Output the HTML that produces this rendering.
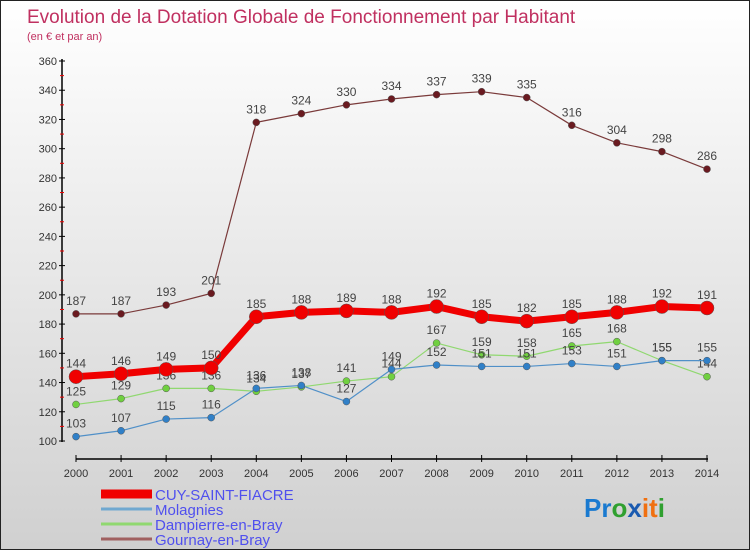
<!DOCTYPE html>
<html><head><meta charset="utf-8"><style>
body{margin:0}
#c{width:750px;height:550px;position:relative;overflow:hidden;box-sizing:border-box;border:1px solid #222;background:linear-gradient(#ffffff,#d0d0d0);font-family:"Liberation Sans",sans-serif}
</style></head><body>
<div id="c">
<svg id="s" width="750" height="550" style="position:absolute;left:0;top:0">
<text x="26" y="22" font-size="19" fill="#c03060">Evolution de la Dotation Globale de Fonctionnement par Habitant</text>
<text x="26" y="39" font-size="11" fill="#c03060">(en € et par an)</text>
<g id="axes"></g><g id="series"></g><g id="legend"></g>
<text x="583" y="516" font-size="26" font-weight="bold"><tspan fill="#1a7ad0">Pr</tspan><tspan fill="#30a030">o</tspan><tspan fill="#1a5ab0">x</tspan><tspan fill="#f07010">it</tspan><tspan fill="#30a030">i</tspan></text>
</svg>
</div>
<script>
const years=[2000,2001,2002,2003,2004,2005,2006,2007,2008,2009,2010,2011,2012,2013,2014];
const yTicks=[100,120,140,160,180,200,220,240,260,280,300,320,340,360];
const cuy=[144,146,149,150,185,188,189,188,192,185,182,185,188,192,191];
const molagnies=[103,107,115,116,136,138,127,149,152,151,151,153,151,155,155];
const dampierre=[125,129,136,136,134,137,141,144,167,159,158,165,168,155,144];
const gournay=[187,187,193,201,318,324,330,334,337,339,335,316,304,298,286];
const names=["CUY-SAINT-FIACRE","Molagnies","Dampierre-en-Bray","Gournay-en-Bray"];
const NS="http://www.w3.org/2000/svg";
const X=i=>75+i*(706-75)/(years.length-1);
const Y=v=>440-(v-100)*380/260;
function mk(t,a,p){const e=document.createElementNS(NS,t);for(const k in a)e.setAttribute(k,a[k]);p.appendChild(e);return e;}
const ax=document.getElementById('axes');
mk('line',{x1:61,y1:58,x2:61,y2:441,stroke:'#000','stroke-width':1.5},ax);
mk('line',{x1:75,y1:458,x2:707,y2:458,stroke:'#000','stroke-width':1.5},ax);
yTicks.forEach(v=>{
 mk('line',{x1:58,y1:Y(v),x2:64,y2:Y(v),stroke:'#000'},ax);
 if(v<360) mk('line',{x1:59,y1:Y(v+10),x2:63,y2:Y(v+10),stroke:'#e00'},ax);
 const t=mk('text',{x:56,y:Y(v)+4,'font-size':11,'text-anchor':'end',fill:'#333'},ax);t.textContent=v;
 
 
});
years.forEach((y,i)=>{
 mk('line',{x1:X(i),y1:454,x2:X(i),y2:461,stroke:'#000'},ax);
 const t=mk('text',{x:X(i),y:476,'font-size':11,'text-anchor':'middle',fill:'#333'},ax);t.textContent=y;
 
 
});
const sg=document.getElementById('series');
function series(d,col,dot,w,r,name){
 const g=mk('g',{},sg);
 
 
 mk('polyline',{points:d.map((v,i)=>X(i)+','+Y(v)).join(' '),fill:'none',stroke:col,'stroke-width':w,'stroke-linejoin':'round'},g);
 d.forEach((v,i)=>{
  const c=mk('circle',{cx:X(i),cy:Y(v),r:r,fill:dot,stroke:'#555','stroke-width':0.5},g);
  
  
  const t=mk('text',{x:X(i),y:Y(v)-9,'font-size':12,'text-anchor':'middle',fill:'#444'},g);t.textContent=v;
  
  
 });
}
series(gournay,'#7a3a3a','#6a1a20',1.2,3.5,'series-gournay');
series(dampierre,'#90d870','#70d040',1.2,3.5,'series-dampierre');
series(molagnies,'#5090c8','#3080c8',1.2,3.5,'series-molagnies');
series(cuy,'#f00000','#f00000',7,7,'series-cuy');
const lg=document.getElementById('legend');
const lc=['#f00000','#70a8d0','#90d870','#a06060'],lw=[9,3,3,3];
names.forEach((n,i)=>{
 const y=493+i*15;
 const l=mk('line',{x1:100,y1:y,x2:151,y2:y,stroke:lc[i],'stroke-width':lw[i]},lg);
 
 
 const t=mk('text',{x:154,y:y+6,'font-size':15,fill:'#5050ee'},lg);t.textContent=n;
 
 
});
</script>
</body></html>
